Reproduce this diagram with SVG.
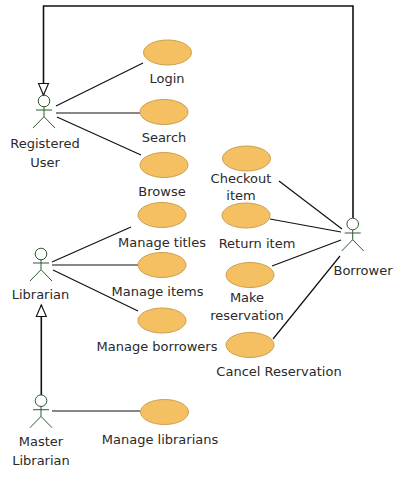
<svg xmlns="http://www.w3.org/2000/svg" width="402" height="481" viewBox="0 0 402 481">
<style>
.uc{fill:#f5c062;stroke:#c9a050;stroke-width:1}
.a{fill:none;stroke:#2f5a2f;stroke-width:1}
.c{fill:none;stroke:#111;stroke-width:1.2}
.g{fill:none;stroke:#111;stroke-width:1.6}
text{font-family:"DejaVu Sans",sans-serif;font-size:13px;fill:#2a2a2a;text-anchor:middle}
</style>
<defs>
<marker id="tri" markerUnits="userSpaceOnUse" markerWidth="14" markerHeight="14" refX="12" refY="6" orient="auto"><path d="M0.500 1L12 6L0.500 11Z" fill="#fff" stroke="#111" stroke-width="1.1"/></marker>
<g id="actor"><circle cx="0" cy="0" r="5.800" class="a"/><path class="a" d="M0 5.800V15.700M-8 9H8M0 15.700L-11 27M0 15.700L11 27"/></g>
</defs>
<rect width="402" height="481" fill="#fff"/>
<g id="connectors">
<path class="g" d="M353 218V6H43.500V95" marker-end="url(#tri)"/>
<path class="g" d="M41.300 395V305" marker-end="url(#tri)"/>
<path class="c" d="M56 106L143 63M56 113H140M57 117L141 155M52 262L131 227M52 265H138M53 270L138 311M52 411H140M279 181L342 229M270 219L341 232M272 266L341 240M273 339L340 256"/>
</g>
<g id="registered-user"><use href="#actor" x="44" y="101"/><text x="45" y="148">Registered</text><text x="45" y="167">User</text></g>
<g id="librarian"><use href="#actor" x="41" y="254"/><text x="40.500" y="299">Librarian</text></g>
<g id="master-librarian"><use href="#actor" x="41" y="400.700"/><text x="41" y="446">Master</text><text x="41" y="465">Librarian</text></g>
<g id="borrower"><use href="#actor" x="352.700" y="224"/><text x="363" y="275">Borrower</text></g>
<g id="login"><ellipse class="uc" cx="167.500" cy="52.500" rx="24" ry="12.500"/><text x="167" y="83">Login</text></g>
<g id="search"><ellipse class="uc" cx="164" cy="112" rx="24" ry="12.500"/><text x="164" y="142">Search</text></g>
<g id="browse"><ellipse class="uc" cx="164" cy="165" rx="24" ry="12.500"/><text x="162" y="196">Browse</text></g>
<g id="manage-titles"><ellipse class="uc" cx="162" cy="215" rx="24" ry="12.500"/><text x="162" y="247">Manage titles</text></g>
<g id="manage-items"><ellipse class="uc" cx="162" cy="265" rx="24" ry="12.500"/><text x="157.500" y="296">Manage items</text></g>
<g id="manage-borrowers"><ellipse class="uc" cx="162" cy="320.500" rx="24" ry="12.500"/><text x="157" y="351">Manage borrowers</text></g>
<g id="manage-librarians"><ellipse class="uc" cx="164.500" cy="412" rx="24" ry="12.500"/><text x="160" y="444">Manage librarians</text></g>
<g id="checkout-item"><ellipse class="uc" cx="246.500" cy="158.500" rx="24" ry="12.500"/><text x="241" y="183">Checkout</text><text x="241" y="200">item</text></g>
<g id="return-item"><ellipse class="uc" cx="246" cy="215.500" rx="24" ry="12.500"/><text x="257" y="248">Return item</text></g>
<g id="make-reservation"><ellipse class="uc" cx="250" cy="275" rx="24" ry="12.500"/><text x="247" y="302">Make</text><text x="247" y="320">reservation</text></g>
<g id="cancel-reservation"><ellipse class="uc" cx="250" cy="345" rx="24" ry="12.500"/><text x="279" y="376">Cancel Reservation</text></g>
</svg>
